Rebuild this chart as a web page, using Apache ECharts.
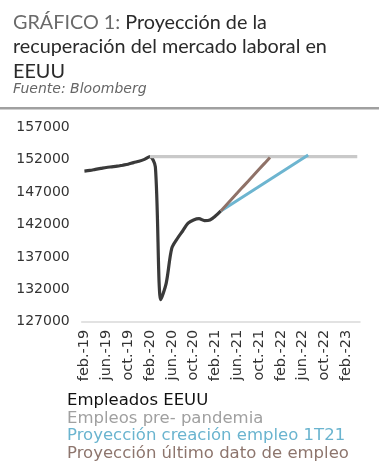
<!DOCTYPE html>
<html>
<head>
<meta charset="utf-8">
<script src="https://cdn.jsdelivr.net/npm/echarts@6/dist/echarts.min.js"></script>
<style>
html,body{margin:0;padding:0;background:#fff;}
#chart{width:379px;height:465px;}
</style>
</head>
<body>
<div id="chart"></div>
<script>
// Categories: monthly, feb-19 .. apr-23
const categories = [
  'feb.-19','mar.-19','abr.-19','may.-19','jun.-19','jul.-19','ago.-19','sep.-19','oct.-19','nov.-19','dic.-19','ene.-20',
  'feb.-20','mar.-20','abr.-20','may.-20','jun.-20','jul.-20','ago.-20','sep.-20','oct.-20','nov.-20','dic.-20','ene.-21',
  'feb.-21','mar.-21','abr.-21','may.-21','jun.-21','jul.-21','ago.-21','sep.-21','oct.-21','nov.-21','dic.-21','ene.-22',
  'feb.-22','mar.-22','abr.-22','may.-22','jun.-22','jul.-22','ago.-22','sep.-22','oct.-22','nov.-22','dic.-22','ene.-23',
  'feb.-23','mar.-23','abr.-23'
];
// Empleados EEUU (miles), feb-19 .. mar-21
const empleados = [
  150250,150350,150500,150650,150800,150900,151000,151150,151300,151550,151750,152050,
  152460,150900,130400,133000,138300,139800,141000,142200,142700,142900,142600,142700,
  143300,144100
];
// Empleos pre-pandemia, feb-20 .. abr-23
const prePandemia = [
  152460,152460,152460,152460,152460,152460,152460,152460,152460,152460,152460,152460,152460,
  152460,152460,152460,152460,152460,152460,152460,152460,152460,152460,152460,152460,152460,
  152460,152460,152460,152460,152460,152460,152460,152460,152460,152460,152460,152460,152460
];
// Proyección creación empleo 1T21, mar-21 .. jul-22
const proy1T21 = [
  144100,144640,145180,145720,146260,146800,147340,147880,148420,148960,149500,150040,
  150580,151120,151660,152200,152740
];
// Proyección último dato de empleo, mar-21 .. dic-21
const proyUltimo = [
  144100,145020,145940,146850,147770,148680,149600,150520,151430,152350
];
const yTicks = [127000,132000,137000,142000,147000,152000,157000];
const seriesNames = ['Empleados EEUU','Empleos pre- pandemia','Proyección creación empleo 1T21','Proyección último dato de empleo'];

function pad(arr, start) {
  const out = new Array(categories.length).fill(null);
  arr.forEach((v, i) => { out[start + i] = v; });
  return out;
}

const FONT = 'DejaVu Sans';
const chart = echarts.init(document.getElementById('chart'), null, {renderer: 'canvas'});
const colors = ['#3a3a3a','#c9c9c9','#6db5d0','#8f7268'];
const legendColors = ['#111111','#a0a0a0','#6ab4cf','#8d756d'];
const legendY = [400.5, 418.5, 436, 454];

chart.setOption({
  animation: false,
  backgroundColor: '#fff',
  title: {
    left: 8, top: 5,
    text: '{a|GRÁFICO 1: }{b|Proyección de la}\n{b|recuperación del mercado laboral en}\n{b|EEUU}',
    textStyle: {
      rich: {
        a: {fontFamily: 'Lato', fontSize: 19.8, color: '#6a6a6a', fontWeight: 'normal', lineHeight: 24.5},
        b: {fontFamily: 'Lato', fontSize: 19.8, color: '#2a2a2a', fontWeight: 'normal', lineHeight: 24.5}
      }
    },
    subtext: 'Fuente: Bloomberg',
    itemGap: 3,
    subtextStyle: {fontFamily: FONT, fontSize: 14, fontStyle: 'italic', color: '#666'}
  },
  graphic: [{
    type: 'rect', left: 0, top: 107, shape: {width: 379, height: 2.5},
    style: {fill: '#a0a0a0'}
  }].concat(seriesNames.map((n, i) => ({
    type: 'text', x: 67, y: legendY[i],
    style: {text: n, fill: legendColors[i], font: '16.5px "DejaVu Sans"', verticalAlign: 'middle', align: 'left'}
  }))),
  grid: {left: 81.7, right: 19, top: 127.3, bottom: 143.3, containLabel: false},
  xAxis: {
    type: 'category',
    data: categories,
    boundaryGap: true,
    axisLine: {lineStyle: {color: '#d9d9d9', width: 1.5}},
    axisTick: {interval: 3, length: 5, lineStyle: {color: '#d9d9d9', width: 1.5}},
    axisLabel: {interval: 3, rotate: 90, margin: 8, color: '#333', fontFamily: FONT, fontSize: 14.5},
    splitLine: {show: false}
  },
  yAxis: {
    type: 'value',
    min: yTicks[0], max: yTicks[yTicks.length - 1], interval: 5000,
    axisLine: {show: false},
    axisTick: {show: false},
    splitLine: {show: false},
    axisLabel: {color: '#333', fontFamily: FONT, fontSize: 14, margin: 12,
      formatter: v => String(v)}
  },
  series: [
    {name: seriesNames[0], type: 'line', data: pad(empleados, 0), smooth: 0.3, symbol: 'none',
      lineStyle: {color: colors[0], width: 3.2}, itemStyle: {color: colors[0]}, z: 2},
    {name: seriesNames[1], type: 'line', data: pad(prePandemia, 12), symbol: 'none',
      lineStyle: {color: colors[1], width: 3.2}, itemStyle: {color: colors[1]}, z: 3},
    {name: seriesNames[2], type: 'line', data: pad(proy1T21, 25), symbol: 'none',
      lineStyle: {color: colors[2], width: 3}, itemStyle: {color: colors[2]}, z: 4},
    {name: seriesNames[3], type: 'line', data: pad(proyUltimo, 25), symbol: 'none',
      lineStyle: {color: colors[3], width: 3}, itemStyle: {color: colors[3]}, z: 5}
  ]
});
</script>
</body>
</html>
